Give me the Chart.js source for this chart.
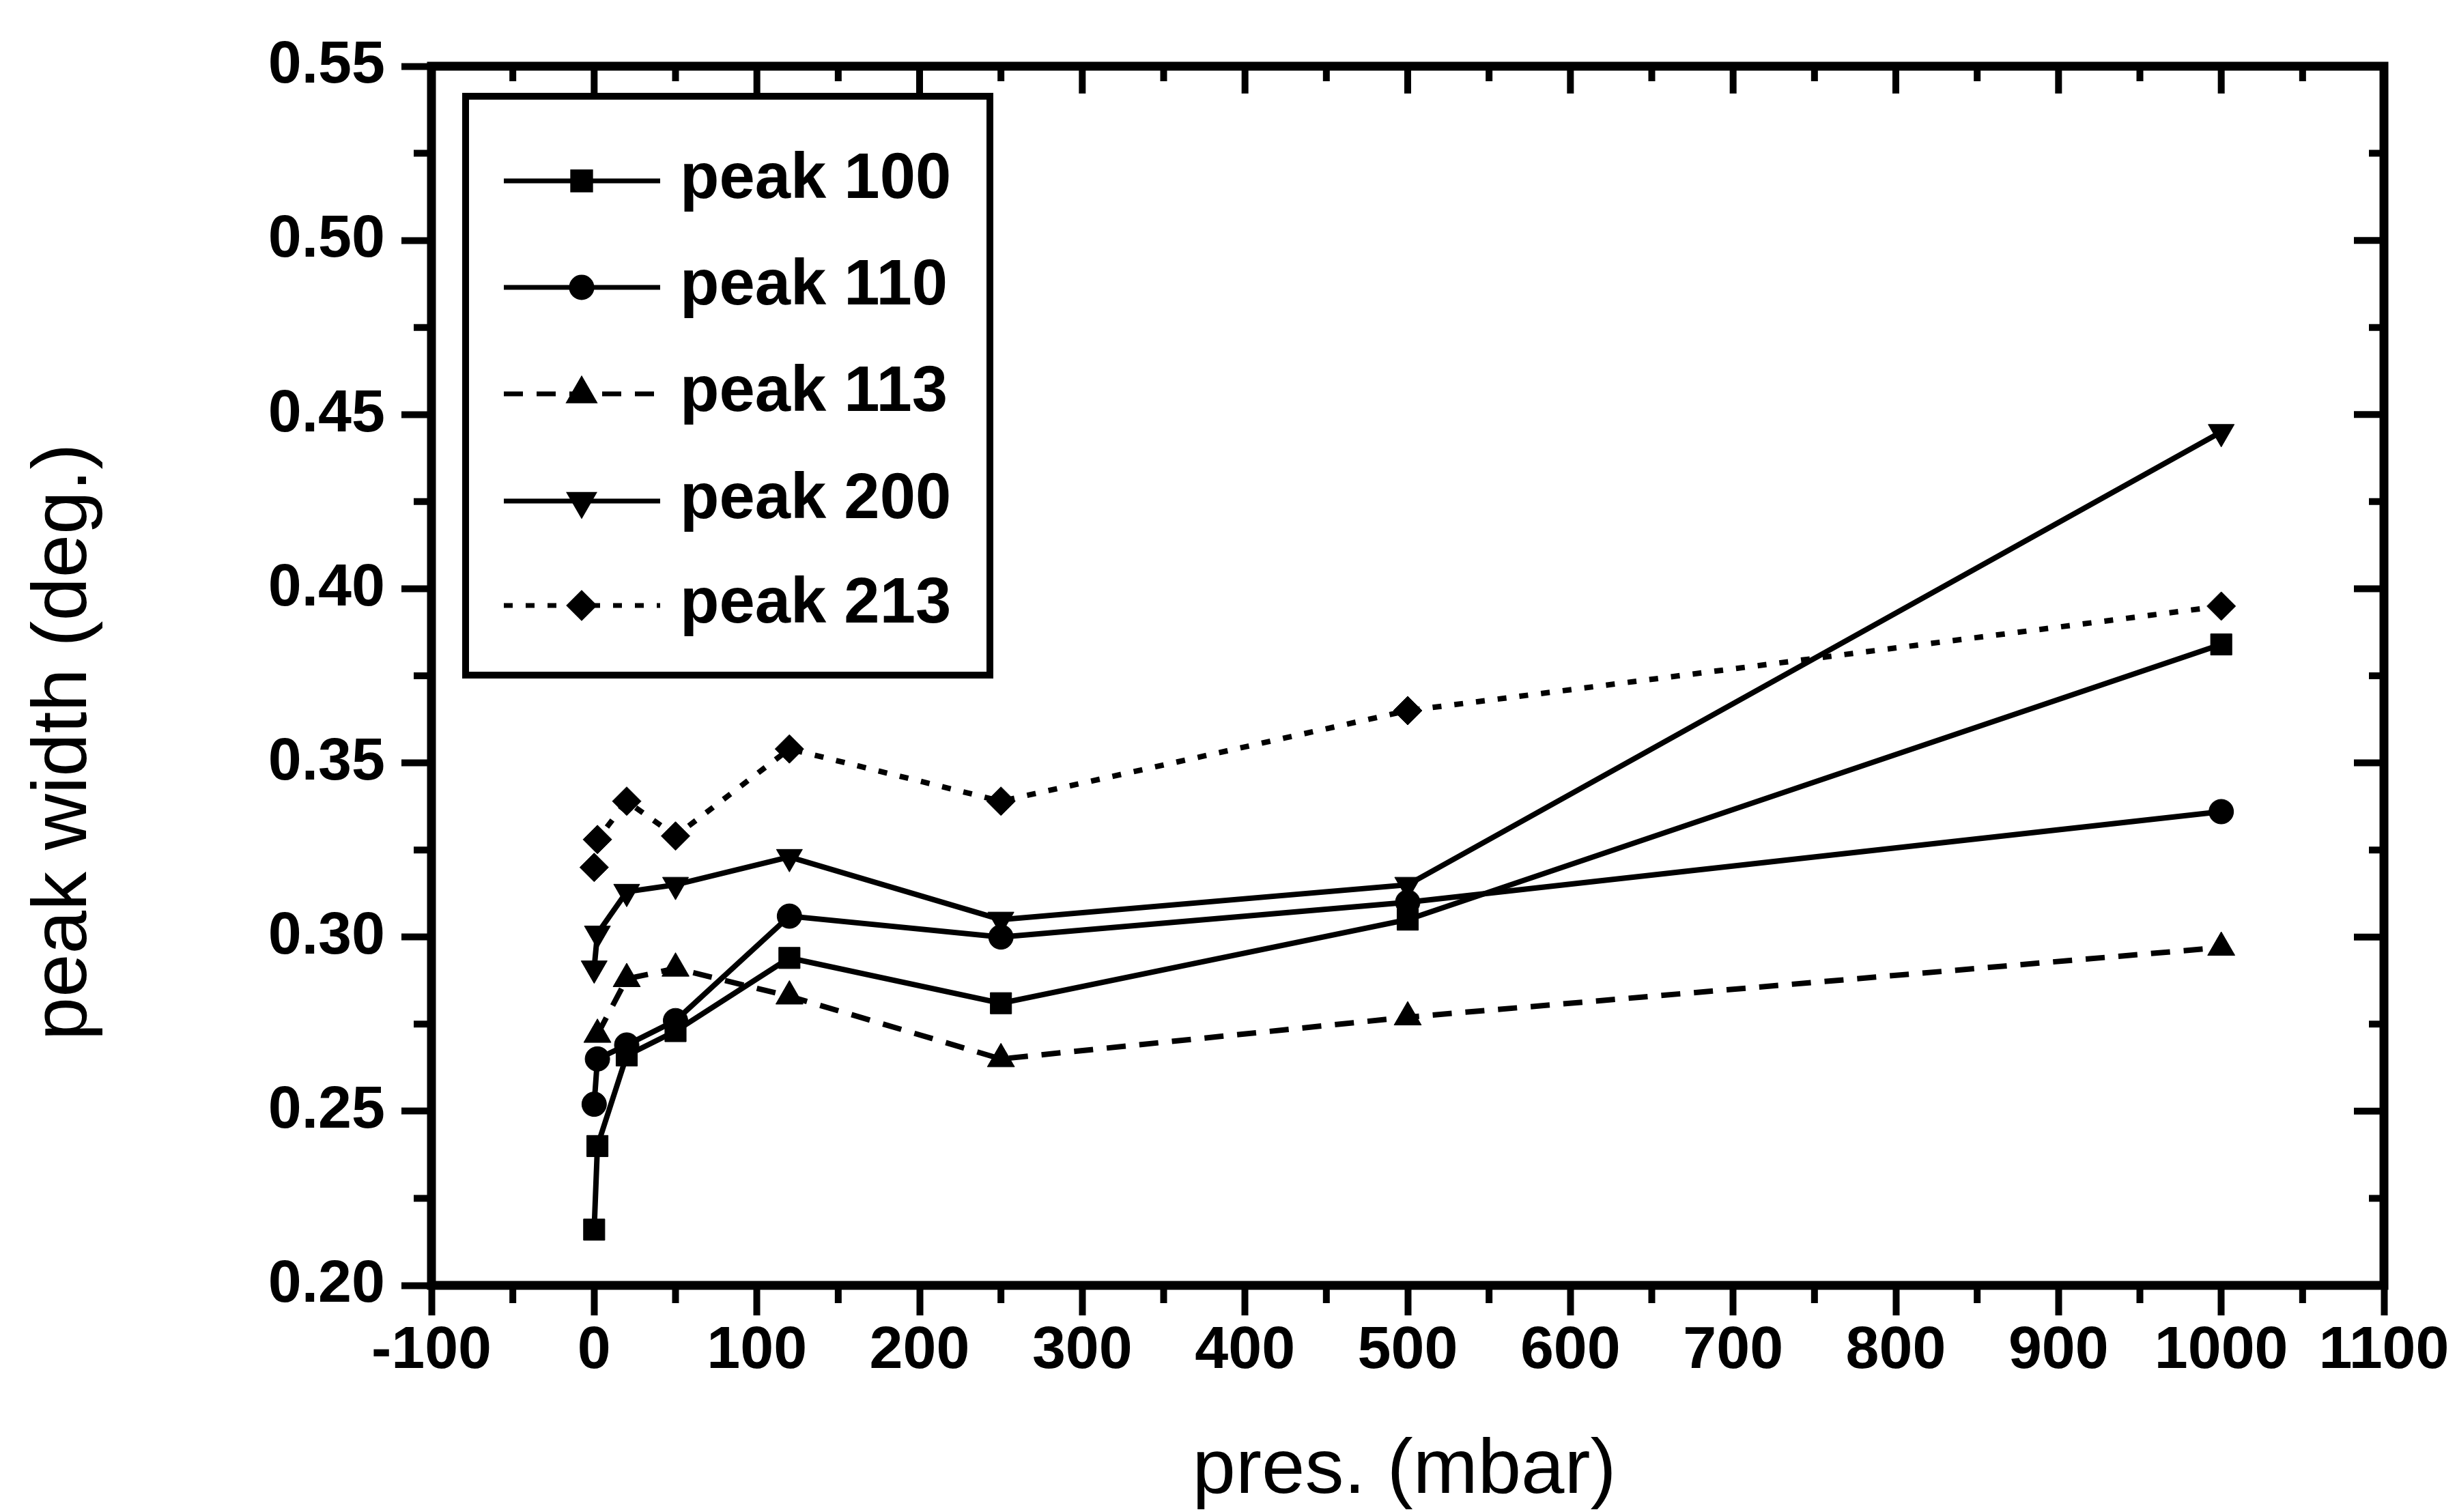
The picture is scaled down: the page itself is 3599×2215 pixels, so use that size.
<!DOCTYPE html>
<html>
<head>
<meta charset="utf-8">
<script src="https://cdn.jsdelivr.net/npm/chart.js@4.4.1/dist/chart.umd.min.js"></script>
<style>
  html, body { margin: 0; padding: 0; background: #fff; }
  #wrap { width: 3599px; height: 2215px; }
</style>
</head>
<body>
<div id="wrap"><canvas id="peakChart" width="3599" height="2215"></canvas></div>
<script>
// pressure steps (mbar) shared by every series
const pressure = [0, 2, 20, 50, 120, 250, 500, 1000];

// peak widths (deg.)
const peak100 = [0.216, 0.240, 0.266, 0.273, 0.294, 0.281, 0.305, 0.384];
const peak110 = [0.252, 0.265, 0.269, 0.276, 0.306, 0.300, 0.310, 0.336];
const peak113 = [null, 0.272, 0.288, 0.291, 0.283, 0.265, 0.277, 0.297];
const peak200 = [0.291, 0.301, 0.313, 0.315, 0.323, 0.305, 0.315, 0.445];
const peak213 = [0.320, 0.328, 0.339, 0.329, 0.354, 0.339, 0.365, 0.395];

const seriesNames = ["peak 100", "peak 110", "peak 113", "peak 200", "peak 213"];

const xTicks = { min: -100, max: 1100, step: 100 };
const yTicks = { min: 0.20, max: 0.55, step: 0.05 };

const FONT = '"Liberation Sans", Arial, Helvetica, sans-serif';

function toPoints(vals) {
  return pressure
    .map((p, i) => ({ x: p, y: vals[i] }))
    .filter(pt => pt.y !== null);
}

function makeSet(label, vals, style, radius, rotation, dash) {
  return {
    label: label,
    data: toPoints(vals),
    borderColor: '#000',
    backgroundColor: '#000',
    borderWidth: 8,
    borderDash: dash,
    borderCapStyle: 'butt',
    pointStyle: style,
    pointRadius: radius,
    pointRotation: rotation,
    pointBackgroundColor: '#000',
    pointBorderColor: '#000',
    pointBorderWidth: 1,
    tension: 0,
    fill: false
  };
}

const datasets = [
  makeSet(seriesNames[0], peak100, 'rect', 22, 0, []),
  makeSet(seriesNames[1], peak110, 'circle', 18, 0, []),
  makeSet(seriesNames[2], peak113, 'triangle', 23, 0, [28, 20]),
  makeSet(seriesNames[3], peak200, 'triangle', 22, 180, []),
  makeSet(seriesNames[4], peak213, 'rectRot', 21, 0, [13, 19])
];

// frame, minor ticks, mirrored inner ticks, axis titles, legend box
const decorPlugin = {
  id: 'decor',
  afterDraw(chart) {
    const ctx = chart.ctx;
    const a = chart.chartArea;
    const xs = chart.scales.x;
    const ys = chart.scales.y;
    ctx.save();
    ctx.strokeStyle = '#000';
    ctx.fillStyle = '#000';
    ctx.lineCap = 'butt';

    // minor outward ticks + inward ticks on top and right
    ctx.lineWidth = 10;
    ctx.beginPath();
    for (let v = xTicks.min; v <= xTicks.max + 1e-6; v += xTicks.step / 2) {
      const px = xs.getPixelForValue(v);
      const major = Math.abs((v - xTicks.min) % xTicks.step) < 1e-6;
      if (!major) {
        ctx.moveTo(px, a.bottom);
        ctx.lineTo(px, a.bottom + 26);
      }
      ctx.moveTo(px, a.top);
      ctx.lineTo(px, a.top + (major ? 40 : 22));
    }
    for (let k = 0; k <= Math.round((yTicks.max - yTicks.min) / (yTicks.step / 2)); k++) {
      const v = yTicks.min + k * yTicks.step / 2;
      const py = ys.getPixelForValue(v);
      const major = k % 2 === 0;
      if (!major) {
        ctx.moveTo(a.left, py);
        ctx.lineTo(a.left - 26, py);
      }
      ctx.moveTo(a.right, py);
      ctx.lineTo(a.right - (major ? 44 : 22), py);
    }
    ctx.stroke();

    // frame
    ctx.lineWidth = 13;
    ctx.strokeRect(a.left, a.top, a.right - a.left, a.bottom - a.top);

    // axis titles
    ctx.font = '114px ' + FONT;
    ctx.textAlign = 'center';
    ctx.textBaseline = 'alphabetic';
    ctx.fillText('pres. (mbar)', (a.left + a.right) / 2 - 5, 2187);
    ctx.save();
    ctx.translate(126, (a.top + a.bottom) / 2 + 97);
    ctx.rotate(-Math.PI / 2);
    ctx.fillText('peak width (deg.)', 0, 0);
    ctx.restore();

    // legend
    const box = { left: 682, top: 141, right: 1450, bottom: 989 };
    ctx.lineWidth = 10;
    ctx.strokeRect(box.left, box.top, box.right - box.left, box.bottom - box.top);
    const rowY = [265, 421, 577, 734, 887];
    ctx.font = 'bold 94px ' + FONT;
    ctx.textAlign = 'left';
    chart.data.datasets.forEach((ds, i) => {
      const y = rowY[i];
      ctx.save();
      ctx.lineWidth = 7;
      ctx.setLineDash(ds.borderDash);
      ctx.beginPath();
      ctx.moveTo(738, y);
      ctx.lineTo(967, y);
      ctx.stroke();
      ctx.restore();
      ctx.save();
      ctx.fillStyle = '#000';
      Chart.helpers.drawPoint(ctx, {
        pointStyle: ds.pointStyle,
        radius: ds.pointRadius * 0.75,
        rotation: ds.pointRotation,
        borderWidth: 1
      }, 852, y);
      ctx.restore();
      ctx.fillText(ds.label, 996, y + 25);
    });
    ctx.restore();
  }
};

const ctx = document.getElementById('peakChart').getContext('2d');
const peakChart = new Chart(ctx, {
  type: 'line',
  data: { datasets: datasets },
  options: {
    responsive: false,
    animation: false,
    devicePixelRatio: 1,
    layout: { padding: { top: 97, right: 107, left: 0, bottom: 0 } },
    plugins: {
      legend: { display: false },
      tooltip: { enabled: false }
    },
    scales: {
      x: {
        type: 'linear',
        min: xTicks.min,
        max: xTicks.max,
        ticks: {
          stepSize: xTicks.step,
          color: '#000',
          padding: 0,
          maxRotation: 0,
          autoSkip: false,
          callback: v => String(Math.round(v)),
          font: { family: FONT, size: 88, weight: 'bold' }
        },
        grid: {
          drawOnChartArea: false,
          drawTicks: true,
          tickLength: 44,
          tickWidth: 10,
          color: '#000'
        },
        border: { display: false },
        afterFit: s => { s.height = 332; }
      },
      y: {
        type: 'linear',
        min: yTicks.min,
        max: yTicks.max,
        ticks: {
          stepSize: yTicks.step,
          color: '#000',
          padding: 24,
          callback: v => Number(v).toFixed(2),
          font: { family: FONT, size: 88, weight: 'bold' }
        },
        grid: {
          drawOnChartArea: false,
          drawTicks: true,
          tickLength: 44,
          tickWidth: 10,
          color: '#000'
        },
        border: { display: false },
        afterFit: s => { s.width = 632; }
      }
    }
  },
  plugins: [decorPlugin]
});
</script>
</body>
</html>
